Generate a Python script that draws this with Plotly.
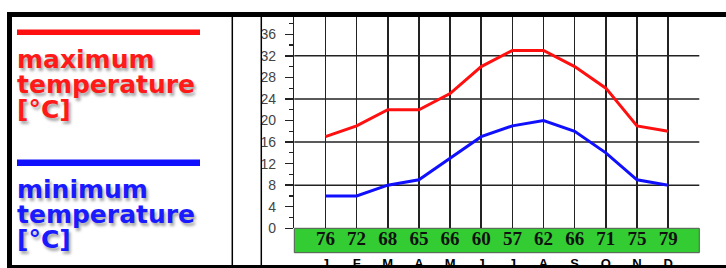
import plotly.graph_objects as go

# ---- data ----
months = ["J", "F", "M", "A", "M", "J", "J", "A", "S", "O", "N", "D"]
max_temp = [17, 19, 22, 22, 25, 30, 33, 33, 30, 26, 19, 18]
min_temp = [6, 6, 8, 9, 13, 17, 19, 20, 18, 14, 9, 8]
humidity = [76, 72, 68, 65, 66, 60, 57, 62, 66, 71, 75, 79]
y_tick_vals = [0, 4, 8, 12, 16, 20, 24, 28, 32, 36]
grid_vals = [8, 16, 24, 32]
max_label = ["maximum", "temperature", "[°C]"]
min_label = ["minimum", "temperature", "[°C]"]

W, H = 726, 268


def px(x):
    return x / W


def py(y):
    return 1 - y / H


month_pos = list(range(1, len(months) + 1))
x_range = [0, len(months) + 1]
y_range = [0, 39.2]
x_dom = [px(294.3), px(699.3)]
y_dom = [py(228.3), py(17)]
band_dom = [py(252.7), py(228.3)]

fig = go.Figure()
fig.add_trace(go.Scatter(x=month_pos, y=max_temp, mode="lines",
                         line=dict(color="#ff1010", width=3),
                         xaxis="x", yaxis="y", hoverinfo="skip"))
fig.add_trace(go.Scatter(x=month_pos, y=min_temp, mode="lines",
                         line=dict(color="#1010ff", width=3),
                         xaxis="x", yaxis="y", hoverinfo="skip"))
fig.add_trace(go.Scatter(x=month_pos, y=[0.5] * len(humidity), mode="text",
                         text=[str(h) for h in humidity],
                         textfont=dict(family="Liberation Serif", size=19,
                                       color="#111111", weight="bold"),
                         xaxis="x2", yaxis="y4", hoverinfo="skip"))

axis_col = "#222222"
tick_font = dict(family="Liberation Sans", size=14, color="#444444")

fig.update_layout(
    width=W, height=H, autosize=False,
    margin=dict(l=0, r=0, t=0, b=0, pad=0),
    paper_bgcolor="white", plot_bgcolor="white",
    showlegend=False,
    xaxis=dict(domain=x_dom, range=x_range, anchor="y", automargin=False,
               tickmode="array", tickvals=list(range(len(months) + 2)),
               ticktext=[""] + months + [""],
               showgrid=True, gridcolor=axis_col, gridwidth=1.5,
               ticks="", showline=False, zeroline=False,
               tickfont=dict(family="Liberation Sans", size=13, color="black",
                             weight="bold"),
               ticklabelstandoff=26),
    yaxis=dict(domain=y_dom, range=y_range, anchor="x", automargin=False,
               tickmode="array", tickvals=y_tick_vals,
               ticks="outside", ticklen=8, tickwidth=1.5, tickcolor=axis_col,
               minor=dict(tickmode="linear", tick0=0, dtick=2, ticks="outside",
                          ticklen=4, tickwidth=1.2, tickcolor=axis_col,
                          showgrid=False),
               showgrid=False, zeroline=False,
               showline=True, linecolor=axis_col, linewidth=1.5,
               tickfont=tick_font, ticklabelstandoff=6),
    yaxis2=dict(range=y_range, overlaying="y", side="right", anchor="x",
                automargin=False,
                tickmode="array", tickvals=y_tick_vals,
                ticks="outside", ticklen=8, tickwidth=1.5, tickcolor=axis_col,
                minor=dict(tickmode="linear", tick0=0, dtick=2, ticks="outside",
                           ticklen=4, tickwidth=1.2, tickcolor=axis_col,
                           showgrid=False),
                showgrid=False, zeroline=False,
                showline=True, linecolor=axis_col, linewidth=1.5,
                tickfont=tick_font, ticklabelstandoff=0),
    xaxis2=dict(domain=x_dom, range=x_range, anchor="y4", visible=False,
                automargin=False),
    yaxis4=dict(domain=band_dom, range=[0, 1], anchor="x2", visible=False,
                automargin=False),
)

shapes = []
# horizontal grid lines
for g in grid_vals:
    shapes.append(dict(type="line", xref="x domain", yref="y", x0=0, x1=1,
                       y0=g, y1=g, line=dict(color=axis_col, width=1.5),
                       layer="below"))
# green humidity band
shapes.append(dict(type="rect", xref="x2 domain", yref="y4 domain",
                   x0=0, x1=1, y0=0, y1=1, fillcolor="#33cc33",
                   line=dict(color="#555555", width=1), layer="below"))
# frame
blk = "black"
shapes.append(dict(type="rect", xref="paper", yref="paper", x0=px(7), x1=1,
                   y0=py(17), y1=py(12), fillcolor=blk, line_width=0, layer="above"))
shapes.append(dict(type="rect", xref="paper", yref="paper", x0=px(7), x1=px(12),
                   y0=0, y1=py(12), fillcolor=blk, line_width=0, layer="above"))
shapes.append(dict(type="rect", xref="paper", yref="paper", x0=px(7), x1=1,
                   y0=0, y1=py(265), fillcolor=blk, line_width=0, layer="above"))
shapes.append(dict(type="line", xref="paper", yref="paper", x0=px(232.3), x1=px(232.3),
                   y0=0, y1=py(14), line=dict(color=blk, width=1.5), layer="above"))
shapes.append(dict(type="line", xref="paper", yref="paper", x0=px(261.3), x1=px(261.3),
                   y0=0, y1=py(14), line=dict(color=blk, width=1.5), layer="above"))
# legend swatches
shapes.append(dict(type="rect", xref="paper", yref="paper", x0=px(17), x1=px(200),
                   y0=py(35), y1=py(29.5), fillcolor="#ff1010", line_width=0))
shapes.append(dict(type="rect", xref="paper", yref="paper", x0=px(17), x1=px(200),
                   y0=py(166), y1=py(159.5), fillcolor="#1010ff", line_width=0))
fig.update_layout(shapes=shapes)

annotations = []
shadow = "2px 3px 3px rgba(0,0,0,0.35)"
for lines, color, tops in [(max_label, "#ff1a1a", [59, 84, 110]),
                           (min_label, "#1a1aff", [189, 214, 239])]:
    for text, yc in zip(lines, tops):
        annotations.append(dict(text=text, xref="paper", yref="paper",
                                x=px(15), y=py(yc), xanchor="left", yanchor="middle",
                                showarrow=False,
                                font=dict(family="DejaVu Sans", size=25, color=color,
                                          weight="bold", shadow=shadow)))
fig.update_layout(annotations=annotations)

fig.write_html("out.html",
               config={"displayModeBar": False, "staticPlot": True},
               post_script="document.body.style.margin='0';"
                           "document.body.style.overflow='hidden';")
